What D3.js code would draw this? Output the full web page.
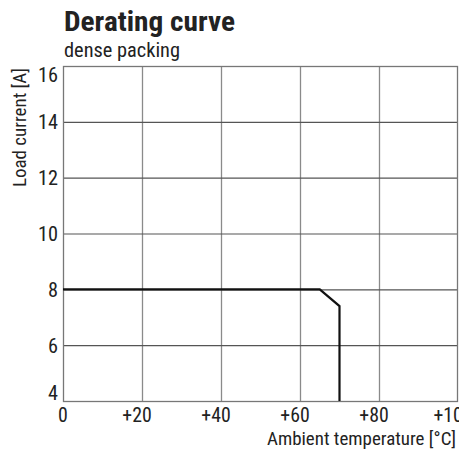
<!DOCTYPE html>
<html><head><meta charset="utf-8">
<script src="https://cdn.jsdelivr.net/npm/d3@7"></script>
<style>
body{margin:0;background:#fff;}
text{font-family:"Liberation Sans Narrow","Roboto Condensed","DejaVu Sans Condensed",Roboto,sans-serif;fill:#222;}
</style></head>
<body><svg id="c" width="459" height="450"></svg>
<script>
const temps = [0, 65, 70, 70];
const currents = [8, 8, 7.4, 4];
const xTicks = [0, 20, 40, 60, 80, 100];
const xTickLabels = ["0", "+20", "+40", "+60", "+80", "+100"];
const yTicks = [4, 6, 8, 10, 12, 14, 16];

const svg = d3.select("#c");
const x = d3.scaleLinear().domain([0, 100]).range([63, 458]);
const y = d3.scaleLinear().domain([4, 16]).range([401, 66]);

// grid
svg.append("g").selectAll("line").data(xTicks.slice(1, -1)).join("line")
  .attr("x1", d => x(d) + 0.5).attr("x2", d => x(d) + 0.5)
  .attr("y1", y(16)).attr("y2", y(4))
  .attr("stroke", "#8a8a8a").attr("stroke-width", 1.3);
svg.append("g").selectAll("line").data(yTicks.slice(1, -1)).join("line")
  .attr("y1", d => y(d) + 0.5).attr("y2", d => y(d) + 0.5)
  .attr("x1", x(0)).attr("x2", x(100))
  .attr("stroke", "#555").attr("stroke-width", 1.2);
// frame
svg.append("rect").attr("x", x(0) + 0.5).attr("y", y(16) + 0.5)
  .attr("width", x(100) - x(0) - 1).attr("height", y(4) - y(16))
  .attr("fill", "none").attr("stroke", "#777").attr("stroke-width", 1.3);

// curve
svg.append("path")
  .datum(temps.map((t, i) => [t, currents[i]]))
  .attr("d", d3.line().x(d => x(d[0])).y(d => y(d[1])))
  .attr("fill", "none").attr("stroke", "#111").attr("stroke-width", 2.2)
  .attr("stroke-linejoin", "miter");

// y tick labels
svg.append("g").selectAll("text").data(yTicks).join("text")
  .attr("x", 58).attr("y", d => d === 16 ? 82 : d === 4 ? 400 : y(d) + 7.5)
  .attr("text-anchor", "end").attr("font-size", 21)
  .attr("textLength", d => String(d).length * 10).attr("lengthAdjust", "spacingAndGlyphs")
  .text(d => d);

// x tick labels
svg.append("g").selectAll("text").data(xTicks).join("text")
  .attr("x", (d, i) => x(d) - (i === 0 ? 0 : 5)).attr("y", 422)
  .attr("text-anchor", "middle").attr("font-size", 21)
  .attr("textLength", (d, i) => xTickLabels[i].length * 9.8).attr("lengthAdjust", "spacingAndGlyphs")
  .text((d, i) => xTickLabels[i]);

// axis titles
svg.append("text").attr("x", 456).attr("y", 445).attr("text-anchor", "end")
  .attr("font-size", 18).attr("textLength", 189).attr("lengthAdjust", "spacingAndGlyphs")
  .text("Ambient temperature [°C]");
svg.append("text").attr("transform", "translate(26,68) rotate(-90)")
  .attr("text-anchor", "end").attr("font-size", 18)
  .attr("textLength", 119).attr("lengthAdjust", "spacingAndGlyphs")
  .text("Load current [A]");

// titles
svg.append("text").attr("x", 64).attr("y", 31).attr("font-size", 28).attr("font-weight", "bold")
  .attr("textLength", 171).attr("lengthAdjust", "spacingAndGlyphs")
  .text("Derating curve");
svg.append("text").attr("x", 64).attr("y", 57).attr("font-size", 20)
  .attr("textLength", 116).attr("lengthAdjust", "spacingAndGlyphs")
  .text("dense packing");
</script></body></html>
